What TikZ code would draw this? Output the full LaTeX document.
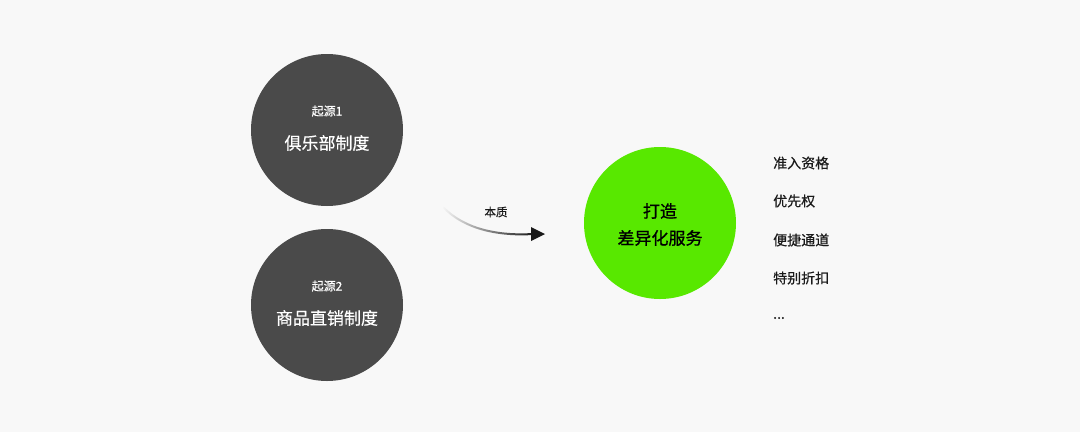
\documentclass[tikz,border=0pt]{standalone}
\usepackage{fontspec}
\setmainfont{Noto Sans CJK SC}
\newfontfamily\cjk{Noto Sans CJK SC}
\newfontfamily\cjkm[FakeBold=0.5]{Noto Sans CJK SC}
\newfontfamily\cjkb[FakeBold=1.0]{Noto Sans CJK SC}
\usetikzlibrary{fadings,arrows.meta}
\definecolor{bgc}{HTML}{F8F8F8}
\definecolor{darkc}{HTML}{4A4A4A}
\definecolor{greenc}{HTML}{58E800}
\definecolor{txtc}{HTML}{1A1A1A}
\tikzset{
  origin/.style={circle, fill=darkc, minimum size=152pt, inner sep=0pt},
  goal/.style={circle, fill=greenc, minimum size=152pt, inner sep=0pt},
  smalltxt/.style={text=white, font=\cjkm\fontsize{12}{14}\selectfont, inner sep=0pt},
  bigtxt/.style={text=white, font=\cjkm\fontsize{17}{20}\selectfont, inner sep=0pt},
  goaltxt/.style={text=black, font=\cjkb\fontsize{17}{20}\selectfont, inner sep=0pt},
  item/.style={text=txtc, font=\cjkm\fontsize{14}{16}\selectfont, anchor=west, inner sep=0pt},
  lbl/.style={text=txtc, font=\cjkm\fontsize{11.5}{14}\selectfont, inner sep=0pt}
}
\begin{document}
\begin{tikzpicture}[x=1pt,y=-1pt]
\fill[bgc] (0,0) rectangle (1080,432);
\useasboundingbox (0,0) rectangle (1080,432);
\node[origin] (o1) at (327,130) {};
\node[origin] (o2) at (327,305) {};
\node[goal] (g) at (660,223) {};
\node[smalltxt] (o1a) at (327,111) {起源1};
\node[bigtxt] (o1b) at (327,143) {俱乐部制度};
\node[smalltxt] (o2a) at (327,286) {起源2};
\node[bigtxt] (o2b) at (327,318) {商品直销制度};
\node[goaltxt] (ga) at (660,211) {打造};
\node[goaltxt] (gb) at (660,238) {差异化服务};
\node[item] (i1) at (773,163) {准入资格};
\node[item] (i2) at (773,201) {优先权};
\node[item] (i3) at (773,240) {便捷通道};
\node[item] (i4) at (773,278) {特别折扣};
\node[item] (i5) at (773,318) {...};
\node[lbl] (ess) at (496,212) {本质};
\coordinate (as) at (443,207);
\coordinate (ae) at (533,234);
\coordinate (tip) at (545,234);
\draw[line width=2pt, black!90, path fading=west] (as) .. controls (465,230) and (500,236) .. (ae);
\fill[black!90] (tip) -- (531,227) -- (531,241) -- cycle;
\end{tikzpicture}
\end{document}
